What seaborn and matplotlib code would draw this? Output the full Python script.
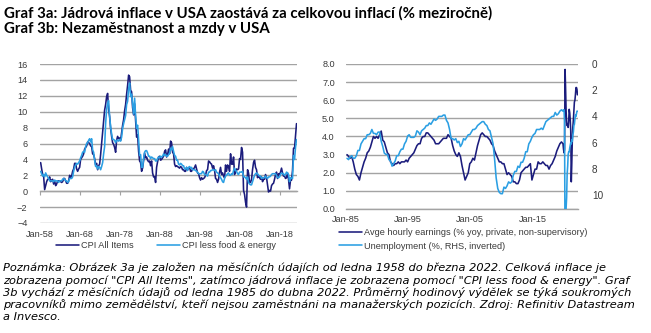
import numpy as np
import pandas as pd
import matplotlib
matplotlib.use("Agg")
import matplotlib.pyplot as plt
import matplotlib.dates as mdates
import matplotlib.ticker as mticker
import seaborn as sns

# ---------------- data ----------------
# Graf 3a: quarterly (quarter-end) readings, Mar-1958 .. Mar-2022, % yoy
cpi_all = [
    3.6, 2.8, 2.1, 1.8,  0.2, 0.7, 1.2, 1.5,  1.5, 1.8, 1.2, 1.4,  1.5, 0.9, 1.3, 0.7,
    0.9, 1.3, 1.3, 1.3,  1.2, 1.1, 1.2, 1.6,  1.6, 1.3, 1.0, 1.0,  1.3, 2.0, 1.7, 1.9,
    2.5, 2.8, 3.5, 3.5,  2.8, 2.5, 2.8, 3.0,  4.0, 4.2, 4.4, 4.7,  5.3, 5.5, 5.7, 6.2,
    6.1, 6.0, 5.7, 5.6,  4.7, 4.6, 4.1, 3.3,  3.5, 2.7, 3.2, 3.4,  4.6, 6.0, 7.4, 8.7,
    10.2, 10.9, 11.9, 12.3,  10.3, 9.4, 7.9, 6.9,  6.1, 5.9, 5.5, 4.9,  6.4, 6.9, 6.6, 6.7,
    6.4, 7.4, 8.3, 9.0,  10.1, 10.9, 12.2, 13.3,  14.6, 14.4, 12.7, 12.5,  10.5, 9.6, 11.0, 8.9,
    6.8, 7.1, 5.0, 3.8,  3.6, 2.5, 2.9, 3.8,  4.8, 4.2, 4.3, 3.9,  3.7, 3.8, 3.2, 3.8,
    2.3, 1.8, 1.8, 1.1,  3.0, 3.7, 4.3, 4.4,  3.9, 4.0, 4.2, 4.4,  5.0, 5.2, 4.3, 4.6,
    5.3, 4.7, 6.3, 6.1,  4.9, 4.7, 3.4, 3.1,  3.2, 3.1, 3.0, 2.9,  3.1, 3.0, 2.7, 2.7,
    2.5, 2.5, 3.0, 2.7,  2.9, 3.0, 2.5, 2.5,  2.8, 2.8, 3.0, 3.3,  2.8, 2.3, 2.2, 1.7,
    1.4, 1.7, 1.5, 1.6,  1.7, 2.0, 2.6, 2.7,  3.8, 3.7, 3.5, 3.4,  2.9, 3.2, 2.6, 1.6,
    1.5, 1.1, 1.5, 2.4,  3.0, 2.1, 2.3, 1.9,  1.7, 3.3, 2.5, 3.3,  3.1, 2.5, 4.7, 3.4,
    3.4, 4.3, 2.1, 2.5,  2.8, 2.7, 2.8, 4.1,  4.0, 5.5, 4.9, 0.1,  -0.4, -1.4, -2.0, 2.7,
    2.3, 1.1, 1.1, 1.5,  2.7, 3.6, 3.9, 3.0,  2.7, 1.7, 2.0, 1.7,  1.5, 1.8, 1.2, 1.5,
    1.5, 2.1, 1.7, 0.8,  -0.1, 0.1, 0.0, 0.7,  0.9, 1.0, 1.5, 2.1,  2.4, 1.6, 2.2, 2.1,
    2.4, 2.9, 2.3, 1.9,  1.9, 1.6, 1.7, 2.3,  1.5, 0.3, 1.4, 1.4,  2.6, 5.4, 5.4, 7.0,
    8.5,
]
cpi_core = [
    2.5, 2.2, 1.9, 2.1,  1.8, 2.3, 2.0, 1.8,  1.6, 1.3, 1.3, 1.3,  1.3, 1.2, 1.4, 1.3,
    1.3, 1.3, 1.1, 1.3,  1.3, 1.3, 1.5, 1.6,  1.5, 1.3, 1.3, 1.1,  1.2, 1.6, 1.6, 1.6,
    1.8, 2.5, 3.0, 3.3,  3.5, 3.4, 3.6, 3.8,  4.2, 4.5, 4.9, 5.0,  4.9, 5.6, 6.0, 6.1,
    6.4, 6.6, 6.2, 6.6,  5.2, 4.9, 3.9, 3.1,  3.2, 2.8, 3.1, 3.0,  2.7, 3.1, 3.6, 4.7,
    5.6, 8.5, 10.3, 11.1,  11.4, 9.4, 8.1, 7.2,  6.5, 6.5, 6.4, 6.1,  6.4, 6.4, 6.3, 6.5,
    6.3, 6.8, 7.9, 8.5,  9.0, 9.5, 10.9, 11.3,  12.9, 13.6, 11.9, 12.2,  10.9, 9.7, 11.7, 9.5,
    7.9, 8.3, 6.5, 4.5,  4.6, 3.0, 3.0, 4.1,  4.9, 5.1, 5.1, 4.8,  4.4, 4.4, 4.1, 4.3,
    4.2, 4.1, 4.1, 3.8,  3.8, 4.1, 4.3, 4.2,  4.4, 4.3, 4.4, 4.7,  4.5, 4.6, 4.4, 4.4,
    4.6, 4.8, 5.4, 5.2,  5.6, 5.0, 4.5, 4.4,  3.9, 3.9, 3.4, 3.3,  3.5, 3.4, 3.2, 3.2,
    2.8, 2.8, 3.0, 2.6,  3.0, 3.1, 2.9, 3.0,  2.7, 2.7, 2.7, 2.6,  2.5, 2.4, 2.2, 2.2,
    2.2, 2.2, 2.5, 2.4,  2.1, 2.1, 2.0, 1.9,  2.4, 2.4, 2.6, 2.6,  2.7, 2.7, 2.6, 2.7,
    2.4, 2.3, 2.2, 1.9,  1.7, 1.5, 1.2, 1.1,  1.6, 1.9, 2.0, 2.2,  2.3, 2.0, 2.0, 2.2,
    2.1, 2.6, 2.9, 2.6,  2.5, 2.2, 2.1, 2.4,  2.4, 2.4, 2.5, 1.8,  1.8, 1.7, 1.5, 1.8,
    1.1, 0.9, 0.8, 0.8,  1.2, 1.6, 2.0, 2.2,  2.3, 2.2, 2.0, 1.9,  1.9, 1.6, 1.7, 1.7,
    1.7, 1.9, 1.7, 1.6,  1.8, 1.8, 1.9, 2.1,  2.2, 2.2, 2.2, 2.2,  2.0, 1.7, 1.7, 1.8,
    2.1, 2.3, 2.2, 2.2,  2.0, 2.1, 2.4, 2.3,  2.1, 1.2, 1.7, 1.6,  1.6, 4.5, 4.0, 5.5,
    6.5,
]
left_labels = ["CPI All Items", "CPI less food & energy"]

# Graf 3b: quarterly (quarter-end) Mar-1985 .. Dec-2019, then monthly Jan-2020 .. Apr-2022
earn_q = [
    3.0, 2.9, 2.8, 2.9,  2.6, 2.2, 1.9, 1.8,  1.6, 2.0, 2.3, 2.6,  2.8, 3.1, 3.2, 3.4,
    3.7, 4.0, 3.9, 4.0,  3.9, 4.1, 4.3, 3.8,  3.7, 3.4, 3.1, 3.0,  2.6, 2.5, 2.4, 2.5,
    2.5, 2.6, 2.5, 2.6,  2.6, 2.6, 2.7, 2.6,  2.8, 2.9, 3.0, 3.1,  3.3, 3.5, 3.6, 3.6,
    3.9, 4.0, 4.0, 4.2,  4.2, 4.1, 4.0, 3.9,  3.8, 3.6, 3.6, 3.6,  3.7, 3.8, 3.9, 3.9,
    3.9, 4.1, 4.0, 3.9,  3.5, 3.2, 3.0, 2.9,  3.1, 2.9, 2.4, 2.0,  1.6, 1.8, 2.0, 2.5,
    2.6, 2.8, 2.7, 3.1,  3.5, 3.8, 4.1, 4.2,  4.1, 4.0, 4.0, 3.9,  3.8, 3.6, 3.5, 3.2,
    3.0, 2.8, 2.6, 2.6,  2.5, 2.5, 2.2, 1.9,  2.0, 1.9, 1.8, 1.5,  1.5, 1.4, 1.4, 1.6,
    2.0, 2.1, 2.2, 2.3,  2.3, 2.4, 2.5, 1.6,  1.9, 2.2, 2.2, 2.6,  2.5, 2.5, 2.6, 2.5,
    2.4, 2.4, 2.2, 2.4,  2.5, 2.7, 2.9, 3.2,  3.4, 3.6, 3.7, 3.6,
]
earn_m = [
    3.3, 3.1, 3.3, 7.7, 6.7, 5.4, 4.8, 4.6, 4.7, 4.5, 4.9, 5.5,
    5.3, 4.9, 4.3, 1.5, 2.5, 3.8, 4.5, 4.9, 5.4, 5.9, 6.0, 6.3,
    6.7, 6.7, 6.6, 6.3,
]
unemp_q = [
    7.2, 7.3, 7.1, 7.0,  7.2, 7.2, 7.0, 6.6,  6.6, 6.1, 5.9, 5.7,  5.7, 5.4, 5.4, 5.3,
    5.0, 5.3, 5.3, 5.4,  5.2, 5.2, 5.9, 6.3,  6.8, 6.9, 6.9, 7.3,  7.4, 7.8, 7.6, 7.4,
    7.0, 7.0, 6.7, 6.5,  6.5, 6.1, 5.9, 5.5,  5.4, 5.6, 5.6, 5.6,  5.5, 5.1, 5.2, 5.4,
    5.1, 5.0, 4.9, 4.7,  4.7, 4.5, 4.6, 4.4,  4.2, 4.3, 4.2, 4.0,  4.0, 4.0, 3.9, 3.9,
    4.3, 4.5, 5.0, 5.7,  5.7, 5.8, 5.7, 6.0,  5.9, 6.3, 6.1, 5.7,  5.8, 5.6, 5.4, 5.4,
    5.2, 5.0, 5.0, 4.9,  4.7, 4.6, 4.5, 4.4,  4.4, 4.6, 4.7, 5.0,  5.1, 5.6, 6.1, 7.3,
    8.7, 9.5, 9.8, 9.9,  9.9, 9.4, 9.5, 9.3,  9.0, 9.1, 9.0, 8.5,  8.2, 8.2, 7.8, 7.9,
    7.5, 7.5, 7.2, 6.7,  6.7, 6.1, 5.9, 5.6,  5.4, 5.3, 5.0, 5.0,  5.0, 4.9, 5.0, 4.7,
    4.4, 4.3, 4.2, 4.1,  4.0, 4.0, 3.7, 3.9,  3.8, 3.6, 3.5, 3.6,
]
unemp_m = [
    3.5, 3.5, 4.4, 14.7, 13.2, 11.0, 10.2, 8.4, 7.8, 6.9, 6.7, 6.7,
    6.4, 6.2, 6.0, 6.1, 5.8, 5.9, 5.4, 5.2, 4.7, 4.6, 4.2, 3.9,
    4.0, 3.8, 3.6, 3.6,
]
right_labels = ["Avge hourly earnings (% yoy, private, non-supervisory)",
                "Unemployment (%, RHS, inverted)"]

left_xticks = ["1958-01-01", "1968-01-01", "1978-01-01", "1988-01-01",
               "1998-01-01", "2008-01-01", "2018-01-01"]
right_xticks = ["1985-01-01", "1995-01-01", "2005-01-01", "2015-01-01"]

title_lines = [
    "Graf 3a: Jádrová inflace v USA zaostává za celkovou inflací (% meziročně)",
    "Graf 3b: Nezaměstnanost a mzdy v USA",
]
note_lines = [
    "Poznámka: Obrázek 3a je založen na měsíčních údajích od ledna 1958 do března 2022. Celková inflace je",
    "zobrazena pomocí \"CPI All Items\", zatímco jádrová inflace je zobrazena pomocí \"CPI less food & energy\". Graf",
    "3b vychází z měsíčních údajů od ledna 1985 do dubna 2022. Průměrný hodinový výdělek se týká soukromých",
    "pracovníků mimo zemědělství, kteří nejsou zaměstnáni na manažerských pozicích. Zdroj: Refinitiv Datastream",
    "a Invesco.",
]

# ---------------- style ----------------
NAVY = "#1b1c7c"
LIGHT = "#2b9fe3"
GRID = "#a3a3a3"
TXT = "#3a3a3a"
TICK_FS = 6.6
NOTE_CANDIDATES = ["Open Sans", "Noto Sans", "DejaVu Sans"]

sns.set_theme(style="white")
plt.rcParams["font.family"] = ["Liberation Sans", "DejaVu Sans"]

W, H = 651, 333
fig = plt.figure(figsize=(W / 100, H / 100), dpi=100)


def px_axes(x0, y0, x1, y1):
    return fig.add_axes([x0 / W, 1 - y1 / H, (x1 - x0) / W, (y1 - y0) / H])


# ---------------- left chart ----------------
dl = pd.date_range("1958-03-01", periods=len(cpi_all), freq="3MS")
df_left = pd.concat([
    pd.DataFrame({"date": dl, "value": cpi_all, "series": left_labels[0]}),
    pd.DataFrame({"date": dl, "value": cpi_core, "series": left_labels[1]}),
])
axL = px_axes(40, 64, 297, 223)
sns.lineplot(data=df_left, x="date", y="value", hue="series", hue_order=left_labels,
             palette=[NAVY, LIGHT], estimator=None, linewidth=1.15, legend=False, ax=axL)
axL.set_xlim(pd.Timestamp("1958-01-01"), pd.Timestamp("2022-04-15"))
axL.set_ylim(-4, 16)
axL.set_yticks(range(-4, 17, 2))
axL.yaxis.grid(True, color=GRID, linewidth=1.0)
axL.xaxis.grid(False)
axL.set_axisbelow(True)
for s in axL.spines.values():
    s.set_visible(False)
lt = [pd.Timestamp(t) for t in left_xticks]
axL.set_xticks(lt)
axL.xaxis.set_major_formatter(mdates.DateFormatter("%b-%y"))
axL.tick_params(axis="both", length=0, labelsize=TICK_FS, labelcolor=TXT)
axL.tick_params(axis="x", pad=5)
axL.tick_params(axis="y", pad=9)
axL.set_xlabel("")
axL.set_ylabel("")
sec = axL.secondary_xaxis(0.2)
sec.set_xticks(mdates.date2num(lt))
sec.tick_params(axis="x", direction="out", length=3, width=0.8, color=GRID,
                labelbottom=False)
sec.spines["bottom"].set_color(GRID)
sec.spines["bottom"].set_linewidth(1.0)

hL = axL.get_lines()[:2]
fig.legend(hL, left_labels, loc="center", bbox_to_anchor=(166 / W, 1 - 246 / H),
           ncol=2, frameon=False, fontsize=TICK_FS, handlelength=2.5, handletextpad=0.2,
           columnspacing=2.6, borderpad=0, labelcolor=TXT)

# ---------------- right chart ----------------
dq = pd.date_range("1985-03-01", periods=len(earn_q), freq="3MS")
dm = pd.date_range("2020-01-01", periods=len(earn_m), freq="MS")
dr = dq.append(dm)
df_earn = pd.DataFrame({"date": dr, "value": earn_q + earn_m})
df_unemp = pd.DataFrame({"date": dr, "value": unemp_q + unemp_m})

axR = px_axes(346, 64, 578, 209)
sns.lineplot(data=df_earn, x="date", y="value", color=NAVY, estimator=None,
             linewidth=1.15, ax=axR)
axR2 = axR.twinx()
sns.lineplot(data=df_unemp, x="date", y="value", color=LIGHT, estimator=None,
             linewidth=1.15, ax=axR2)
axR.set_xlim(pd.Timestamp("1985-01-01"), pd.Timestamp("2022-05-01"))
axR.set_ylim(0, 8)
axR.set_yticks(np.arange(0, 8.01, 1.0))
axR.yaxis.set_major_formatter(mticker.FormatStrFormatter("%.1f"))
axR.yaxis.grid(True, color=GRID, linewidth=1.0)
axR.xaxis.grid(False)
axR.set_axisbelow(True)
for k, s in axR.spines.items():
    s.set_visible(k == "bottom")
axR.spines["bottom"].set_color(GRID)
axR.spines["bottom"].set_linewidth(1.0)
axR.set_xticks([pd.Timestamp(t) for t in right_xticks])
axR.xaxis.set_major_formatter(mdates.DateFormatter("%b-%y"))
axR.tick_params(axis="x", direction="in", length=3, color=GRID, labelsize=TICK_FS,
                labelcolor=TXT, pad=4)
axR.tick_params(axis="y", length=0, labelsize=TICK_FS, labelcolor=TXT, pad=8)
axR.set_xlabel("")
axR.set_ylabel("")

axR2.set_ylim(11.07, 0)
axR2.set_yticks(range(0, 11, 2))
for s in axR2.spines.values():
    s.set_visible(False)
axR2.grid(False)
axR2.tick_params(axis="y", length=0, labelsize=TICK_FS + 0.6, labelcolor=TXT, pad=10)
axR2.set_ylabel("")

hR = [axR.get_lines()[0], axR2.get_lines()[0]]
fig.legend(hR, right_labels, loc="center left", bbox_to_anchor=(339 / W, 1 - 239.5 / H),
           ncol=1, frameon=False, fontsize=TICK_FS, handlelength=2.5, handletextpad=0.2,
           labelspacing=0.45, borderpad=0, borderaxespad=0, labelcolor=TXT)

# ---------------- texts ----------------
tt = []
for i, line in enumerate(title_lines):
    tt.append(fig.text(4 / W, 1 - (13 + 16 * i) / H, line, ha="left", va="center",
                       fontsize=9, fontweight="bold", family=["Lato", "DejaVu Sans"],
                       color="black"))
nt = []
for i, (line, yy) in enumerate(zip(note_lines, [268, 280.5, 292.8, 305, 317])):
    nt.append(fig.text(3 / W, 1 - yy / H, line, ha="left", va="center",
                       fontsize=8.0, fontstyle="italic",
                       family=[NOTE_CANDIDATES[0], "DejaVu Sans"], color="black"))

fig.canvas.draw()
r = fig.canvas.get_renderer()
sc = 488 / tt[0].get_window_extent(r).width
for t in tt:
    t.set_fontsize(9 * sc)

# choose the note font that can fill ~634 px while fitting the 12.2 px line pitch
best = None
for fam in NOTE_CANDIDATES:
    for t in nt:
        t.set_family([fam, "DejaVu Sans"])
        t.set_fontsize(8.0)
    widths = [t.get_window_extent(r).width for t in nt[:4]]
    heights = [t.get_window_extent(r).height for t in nt[:4]]
    fs = min(8.0 * 634 / max(widths), 8.0 * 12.1 / max(heights))
    got = max(widths) * fs / 8.0
    if best is None or got > best[2] + 8:
        best = (fam, fs, got)
    if got >= 622:
        break
for t in nt:
    t.set_family([best[0], "DejaVu Sans"])
    t.set_fontsize(best[1])

fig.savefig("out.png", dpi=100)
